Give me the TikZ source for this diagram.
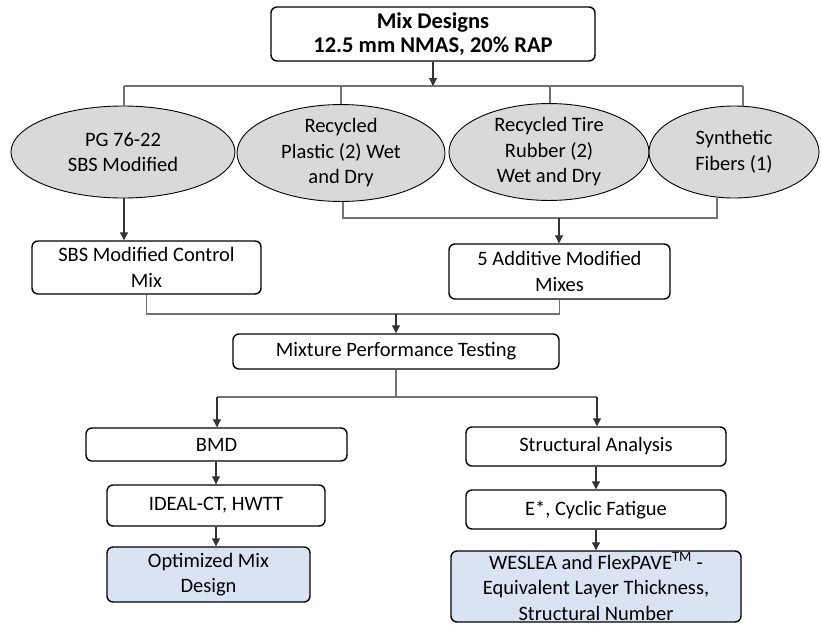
\documentclass[tikz,border=0pt]{standalone}
\usepackage{fontspec}
\setmainfont{Carlito}
\usetikzlibrary{shapes.geometric,arrows.meta,calc}
\definecolor{ellfill}{HTML}{D9D9D9}
\definecolor{bluefill}{HTML}{DAE3F3}
\begin{document}
\begin{tikzpicture}[x=1pt,y=-1pt,
  every node/.style={font=\fontsize{20.5}{25.5}\selectfont, align=center, inner sep=0pt},
  box/.style={draw=black, line width=1.4pt, rounded corners=6pt, fill=white},
  bluebox/.style={box, fill=bluefill},
  ell/.style={ellipse, draw=black, line width=0.9pt, fill=ellfill},
  conn/.style={draw=black!55, line width=1.1pt},
  arr/.style={draw=black!80, line width=1.1pt, -{Triangle[width=8pt,length=8pt]}}]
\useasboundingbox (0,0) rectangle (821,624);
% nodes
\node[box, minimum width=324, minimum height=54, font=\bfseries\fontsize{22.5}{23.5}\selectfont] (top) at (433,34) {Mix Designs\\12.5 mm NMAS, 20\% RAP};
\node[ell, minimum width=224, minimum height=92] (e1) at (123,152) {PG 76-22\\SBS Modified};
\node[ell, minimum width=208, minimum height=94] (e2) at (341,153) {Recycled\\Plastic (2) Wet\\and Dry};
\node[ell, minimum width=200, minimum height=92] (e3) at (549,152) {Recycled Tire\\Rubber (2)\\Wet and Dry};
\node[ell, minimum width=170, minimum height=92] (e4) at (734,152) {Synthetic\\Fibers (1)};
\node[box, minimum width=229, minimum height=53] (sbs) at (146.5,267.5) {SBS Modified Control\\Mix};
\node[box, minimum width=221, minimum height=55] (add) at (559.5,271.5) {5 Additive Modified\\Mixes};
\node[box, minimum width=326, minimum height=35] (mpt) at (396,351.5) {Mixture Performance Testing};
\node[box, minimum width=261, minimum height=33] (bmd) at (216.5,444.5) {BMD};
\node[box, minimum width=260, minimum height=39] (sa) at (596,446.5) {Structural Analysis};
\node[box, minimum width=218, minimum height=41] (ideal) at (216,505.5) {IDEAL-CT, HWTT};
\node[box, minimum width=260, minimum height=39] (ema) at (596,509.5) {E*, Cyclic Fatigue};
\node[bluebox, minimum width=203, minimum height=55] (opt) at (208.5,574.5) {Optimized Mix\\Design};
\node[bluebox, minimum width=290, minimum height=71] (wes) at (596,586.5) {WESLEA and FlexPAVE\textsuperscript{TM} -\\Equivalent Layer Thickness,\\Structural Number};
% junction coordinates
\coordinate (j1) at (433,86);
\coordinate (j1l) at (124,86);
\coordinate (j1r) at (743,86);
\coordinate (j2) at (559,218);
\coordinate (j2l) at (343,218);
\coordinate (j2r) at (717,218);
\coordinate (j3) at (396,314);
\coordinate (j4) at (396,397);
\coordinate (j4l) at (217,397);
\coordinate (j4r) at (597,397);
\coordinate (e1b) at ($(e1.south)+(1,0)$);
\coordinate (e2b) at ($(e2.south)+(2,0)$);
\coordinate (e4b) at ($(e4.south)+(-17,-1)$);
\coordinate (e3t) at ($(e3.north)+(1,0.1)$);
\coordinate (e4t) at ($(e4.north)+(9,0.4)$);
% connectors
\draw[conn] (j1l) -- (j1r);
\draw[arr] (top.south) -- (j1);
\draw[conn] (j1l) -- (e1.north -| j1l);
\draw[conn] (341,86) -- (e2.north);
\draw[conn] (550,86) -- (e3t);
\draw[conn] (j1r) -- (e4t);
\draw[arr] (e1b) -- (e1b |- sbs.north);
\draw[conn] (e2b) -- (j2l) -- (j2r) -- (e4b);
\draw[arr] (j2) -- (j2 |- add.north);
\draw[conn] (sbs.south) -- (sbs.south |- j3) -- (add.south |- j3) -- (add.south);
\draw[arr] (j3) -- (mpt.north);
\draw[conn] (mpt.south) -- (j4);
\draw[conn] (j4l) -- (j4r);
\draw[arr] (j4l) -- (j4l |- bmd.north);
\draw[arr] (j4r) -- (j4r |- sa.north);
\draw[arr] (bmd.south -| ideal.north) -- (ideal.north);
\draw[arr] (ideal.south) -- (ideal.south |- opt.north);
\draw[arr] (sa.south) -- (ema.north);
\draw[arr] (ema.south) -- (wes.north);
\end{tikzpicture}
\end{document}
